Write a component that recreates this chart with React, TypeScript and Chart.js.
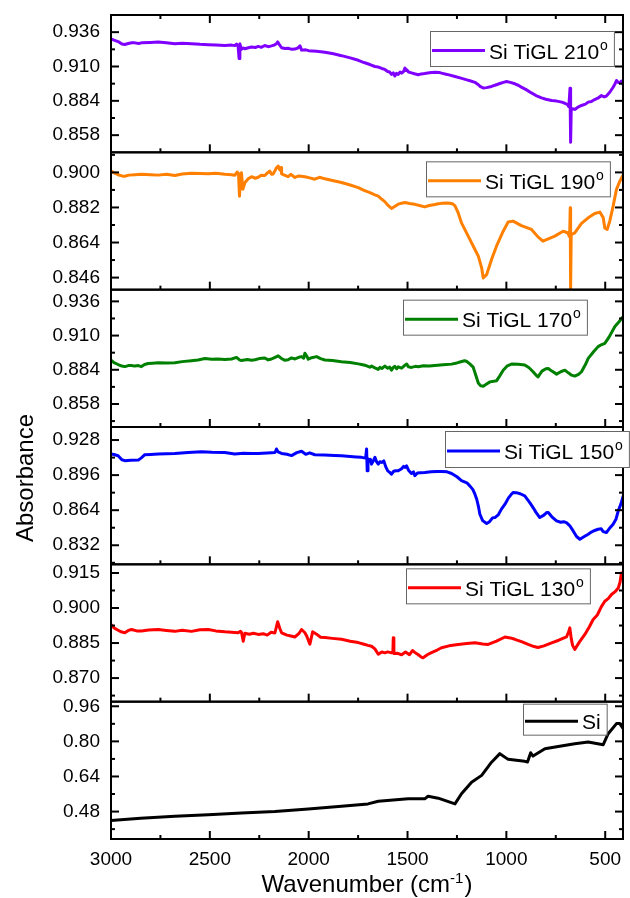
import React, { useEffect, useRef } from 'react';
import { Chart, registerables } from 'chart.js';

Chart.register(...registerables);

const FONT = "'Liberation Sans', Arial, Helvetica, sans-serif";

// ---------- data (wavenumber cm-1, absorbance) ----------
const wn210 = [3000, 2985, 2964, 2945, 2930, 2913, 2895, 2879, 2860, 2846, 2800, 2761, 2720, 2677, 2640, 2593, 2550, 2508, 2470, 2424, 2390, 2374, 2365, 2357, 2352, 2348, 2340, 2330, 2323, 2300, 2289, 2270, 2255, 2240, 2222, 2205, 2188, 2175, 2163, 2157, 2150, 2137, 2120, 2104, 2085, 2070, 2055, 2044, 2036, 2015, 2000, 1960, 1918, 1875, 1834, 1790, 1749, 1720, 1690, 1665, 1648, 1630, 1615, 1600, 1590, 1581, 1572, 1564, 1556, 1547, 1538, 1530, 1520, 1513, 1508, 1504, 1495, 1480, 1465, 1446, 1430, 1413, 1390, 1362, 1340, 1328, 1300, 1260, 1230, 1200, 1180, 1159, 1140, 1133, 1117, 1100, 1075, 1050, 1033, 1015, 999, 980, 957, 940, 924, 900, 873, 850, 822, 800, 771, 755, 738, 720, 704, 690, 684, 678, 675, 672, 665, 654, 640, 620, 600, 586, 570, 553, 535, 519, 505, 494, 477, 460, 450, 443, 435, 426, 418, 410];
const ab210 = [0.931, 0.93, 0.9289, 0.927, 0.9267, 0.9274, 0.928, 0.9279, 0.9274, 0.9279, 0.9282, 0.9285, 0.928, 0.9272, 0.9276, 0.9273, 0.9268, 0.9265, 0.9262, 0.9259, 0.9262, 0.9258, 0.927, 0.9252, 0.916, 0.9272, 0.923, 0.924, 0.9234, 0.9244, 0.9248, 0.9244, 0.9252, 0.9245, 0.9259, 0.925, 0.9256, 0.9262, 0.9272, 0.9286, 0.927, 0.9242, 0.9236, 0.9238, 0.923, 0.9232, 0.924, 0.9256, 0.9224, 0.9226, 0.922, 0.9215, 0.9208, 0.9196, 0.9182, 0.9165, 0.9147, 0.913, 0.9115, 0.91, 0.9096, 0.9085, 0.9078, 0.9062, 0.9058, 0.904, 0.9052, 0.9028, 0.9048, 0.904, 0.9058, 0.905, 0.9062, 0.9088, 0.907, 0.9075, 0.9058, 0.9052, 0.9045, 0.9038, 0.9044, 0.9047, 0.9052, 0.9057, 0.9054, 0.905, 0.904, 0.9024, 0.9012, 0.8999, 0.899, 0.898, 0.896, 0.895, 0.8937, 0.894, 0.8949, 0.8962, 0.8971, 0.898, 0.8986, 0.898, 0.8969, 0.8958, 0.8944, 0.8925, 0.89, 0.888, 0.8862, 0.8852, 0.8842, 0.884, 0.8836, 0.883, 0.8822, 0.881, 0.8795, 0.8936, 0.8527, 0.8768, 0.878, 0.8775, 0.879, 0.8805, 0.8815, 0.883, 0.8835, 0.885, 0.8862, 0.888, 0.887, 0.8876, 0.8905, 0.8943, 0.897, 0.8994, 0.898, 0.8976, 0.899, 0.8962];

const wn190 = [3000, 2985, 2964, 2945, 2930, 2910, 2879, 2846, 2800, 2761, 2720, 2677, 2640, 2593, 2550, 2508, 2470, 2424, 2390, 2374, 2362, 2355, 2350, 2345, 2340, 2333, 2323, 2306, 2289, 2270, 2255, 2240, 2222, 2210, 2197, 2188, 2180, 2170, 2163, 2154, 2146, 2140, 2137, 2120, 2104, 2090, 2070, 2050, 2019, 1995, 1969, 1945, 1918, 1880, 1834, 1790, 1749, 1720, 1690, 1665, 1648, 1630, 1615, 1600, 1581, 1565, 1547, 1530, 1513, 1490, 1463, 1440, 1413, 1390, 1362, 1345, 1328, 1300, 1286, 1270, 1260, 1244, 1227, 1193, 1159, 1142, 1125, 1117, 1100, 1075, 1050, 1016, 991, 966, 924, 873, 840, 815, 788, 755, 713, 690, 680, 677, 675, 672, 654, 620, 586, 553, 527, 510, 502, 490, 477, 460, 443, 426, 410];
const ab190 = [0.9007, 0.8998, 0.8988, 0.8982, 0.898, 0.8986, 0.8988, 0.899, 0.8988, 0.8986, 0.899, 0.8984, 0.8992, 0.8995, 0.8994, 0.8993, 0.8996, 0.899, 0.8988, 0.8985, 0.9002, 0.8995, 0.8878, 0.8973, 0.8998, 0.8913, 0.8947, 0.8967, 0.8978, 0.897, 0.8975, 0.8985, 0.8984, 0.8996, 0.9007, 0.899, 0.8992, 0.901, 0.9024, 0.9033, 0.9012, 0.9025, 0.8992, 0.8985, 0.8978, 0.899, 0.8974, 0.8982, 0.8978, 0.8972, 0.8965, 0.8975, 0.8967, 0.8958, 0.8948, 0.8935, 0.8922, 0.8908, 0.8896, 0.8885, 0.8878, 0.8862, 0.885, 0.8832, 0.8815, 0.8825, 0.8837, 0.8842, 0.8845, 0.884, 0.8836, 0.883, 0.8823, 0.883, 0.8835, 0.8839, 0.8841, 0.8843, 0.8842, 0.8838, 0.8828, 0.8793, 0.8741, 0.8673, 0.8604, 0.857, 0.851, 0.8458, 0.8475, 0.8553, 0.8621, 0.8698, 0.8745, 0.875, 0.8727, 0.8707, 0.8669, 0.8647, 0.8659, 0.8673, 0.8698, 0.869, 0.8669, 0.8818, 0.8398, 0.8681, 0.869, 0.8738, 0.8767, 0.8789, 0.8796, 0.8767, 0.8715, 0.8707, 0.875, 0.8827, 0.8913, 0.8955, 0.8985];

const wn170 = [3000, 2985, 2964, 2945, 2930, 2912, 2896, 2880, 2862, 2846, 2830, 2812, 2790, 2761, 2720, 2677, 2640, 2593, 2560, 2525, 2490, 2460, 2424, 2390, 2365, 2350, 2340, 2310, 2290, 2272, 2250, 2222, 2205, 2188, 2170, 2154, 2140, 2120, 2104, 2087, 2070, 2050, 2036, 2025, 2019, 2010, 2002, 1985, 1960, 1940, 1918, 1880, 1834, 1790, 1749, 1733, 1710, 1690, 1682, 1665, 1648, 1640, 1630, 1615, 1600, 1590, 1581, 1572, 1564, 1555, 1547, 1530, 1515, 1504, 1495, 1480, 1460, 1446, 1420, 1390, 1362, 1320, 1277, 1250, 1230, 1212, 1202, 1185, 1168, 1155, 1142, 1130, 1117, 1100, 1083, 1065, 1050, 1035, 1016, 995, 974, 940, 907, 885, 865, 850, 840, 820, 800, 788, 770, 746, 725, 704, 685, 670, 654, 635, 620, 600, 586, 560, 536, 520, 502, 480, 451, 430, 409];
const ab170 = [0.8914, 0.8895, 0.888, 0.8868, 0.8864, 0.8872, 0.8873, 0.8868, 0.8872, 0.8864, 0.888, 0.8888, 0.889, 0.8893, 0.8892, 0.8894, 0.8902, 0.8909, 0.8915, 0.8925, 0.892, 0.8922, 0.8918, 0.8922, 0.8934, 0.8915, 0.891, 0.8918, 0.8912, 0.8916, 0.8925, 0.893, 0.8915, 0.8922, 0.8935, 0.8946, 0.8928, 0.8912, 0.8916, 0.893, 0.8922, 0.8935, 0.894, 0.8928, 0.8966, 0.8945, 0.892, 0.8932, 0.894, 0.8925, 0.8914, 0.891, 0.8901, 0.8895, 0.8885, 0.888, 0.8872, 0.886, 0.8868, 0.8855, 0.8843, 0.8858, 0.885, 0.8868, 0.8852, 0.886, 0.8837, 0.8858, 0.8866, 0.8848, 0.8862, 0.8852, 0.8872, 0.8883, 0.8862, 0.8858, 0.8866, 0.8863, 0.887, 0.8868, 0.8873, 0.8878, 0.8883, 0.8892, 0.8901, 0.8909, 0.8905, 0.8885, 0.886, 0.88, 0.874, 0.8718, 0.8715, 0.8732, 0.8748, 0.8752, 0.8756, 0.879, 0.8837, 0.887, 0.8883, 0.8882, 0.8876, 0.8855, 0.8825, 0.88, 0.8786, 0.883, 0.8848, 0.885, 0.883, 0.8807, 0.8825, 0.8837, 0.8815, 0.8799, 0.8792, 0.8805, 0.8825, 0.888, 0.8927, 0.8975, 0.9016, 0.903, 0.9041, 0.909, 0.9169, 0.9205, 0.9245];

const wn150 = [3000, 2985, 2964, 2945, 2930, 2900, 2862, 2845, 2829, 2800, 2761, 2720, 2677, 2610, 2542, 2490, 2424, 2374, 2330, 2290, 2255, 2210, 2171, 2166, 2163, 2155, 2137, 2110, 2087, 2060, 2036, 2015, 1995, 1969, 1920, 1870, 1834, 1790, 1760, 1733, 1712, 1707, 1704, 1700, 1695, 1688, 1682, 1673, 1665, 1656, 1648, 1640, 1631, 1620, 1610, 1600, 1590, 1581, 1570, 1560, 1547, 1530, 1520, 1513, 1505, 1495, 1480, 1470, 1463, 1450, 1435, 1413, 1380, 1350, 1328, 1300, 1277, 1250, 1227, 1200, 1185, 1170, 1159, 1150, 1142, 1134, 1120, 1100, 1085, 1070, 1058, 1040, 1025, 1007, 990, 975, 966, 950, 930, 907, 890, 878, 865, 850, 831, 810, 795, 788, 770, 746, 725, 710, 696, 680, 662, 645, 628, 610, 586, 570, 553, 536, 520, 510, 494, 480, 460, 445, 434, 420, 409];
const ab150 = [0.9152, 0.9148, 0.9137, 0.91, 0.9092, 0.9095, 0.9097, 0.912, 0.9146, 0.9148, 0.9152, 0.9155, 0.9158, 0.9166, 0.9174, 0.9168, 0.9166, 0.9152, 0.916, 0.9158, 0.9157, 0.9162, 0.9167, 0.9182, 0.9198, 0.9172, 0.9158, 0.915, 0.9138, 0.9165, 0.9178, 0.915, 0.9163, 0.9146, 0.9143, 0.9139, 0.9136, 0.913, 0.9126, 0.9122, 0.9115, 0.9198, 0.8999, 0.911, 0.9085, 0.9105, 0.906, 0.909, 0.9122, 0.908, 0.906, 0.9082, 0.9076, 0.909, 0.9035, 0.8999, 0.8985, 0.8969, 0.8995, 0.9, 0.9, 0.9018, 0.904, 0.903, 0.9045, 0.9005, 0.8975, 0.899, 0.8955, 0.898, 0.8982, 0.8984, 0.899, 0.8994, 0.8994, 0.899, 0.8975, 0.8945, 0.891, 0.889, 0.8862, 0.883, 0.8786, 0.874, 0.868, 0.8603, 0.8545, 0.8518, 0.8535, 0.857, 0.8573, 0.86, 0.865, 0.8695, 0.875, 0.8785, 0.8801, 0.88, 0.879, 0.8771, 0.873, 0.87, 0.8664, 0.862, 0.8573, 0.8595, 0.862, 0.8619, 0.858, 0.8542, 0.853, 0.8535, 0.8527, 0.85, 0.8451, 0.84, 0.8375, 0.8395, 0.8421, 0.844, 0.8455, 0.8466, 0.847, 0.8445, 0.8436, 0.847, 0.8512, 0.856, 0.8634, 0.87, 0.8771];

const wn130 = [3000, 2985, 2964, 2950, 2930, 2912, 2896, 2870, 2846, 2810, 2761, 2720, 2677, 2640, 2593, 2550, 2508, 2470, 2424, 2390, 2357, 2345, 2340, 2331, 2323, 2300, 2280, 2255, 2230, 2210, 2190, 2171, 2157, 2145, 2137, 2110, 2090, 2070, 2050, 2036, 2020, 2010, 1994, 1980, 1960, 1940, 1918, 1880, 1834, 1790, 1749, 1720, 1700, 1682, 1665, 1648, 1630, 1615, 1600, 1581, 1574, 1572, 1569, 1550, 1530, 1510, 1490, 1475, 1463, 1445, 1430, 1421, 1400, 1379, 1350, 1328, 1290, 1244, 1200, 1159, 1120, 1092, 1050, 1007, 980, 957, 920, 890, 860, 840, 810, 771, 735, 696, 684, 679, 672, 665, 654, 630, 603, 580, 561, 540, 520, 502, 485, 468, 450, 434, 425, 418, 409];
const ab130 = [0.893, 0.8915, 0.8905, 0.8898, 0.8894, 0.8904, 0.8908, 0.8902, 0.8902, 0.8906, 0.8908, 0.8904, 0.89, 0.8905, 0.89, 0.8907, 0.8908, 0.8902, 0.8898, 0.8896, 0.8894, 0.89, 0.8896, 0.8858, 0.8892, 0.8888, 0.8892, 0.8887, 0.889, 0.8884, 0.8896, 0.8893, 0.8941, 0.891, 0.8894, 0.8884, 0.888, 0.8876, 0.889, 0.8908, 0.8895, 0.888, 0.8845, 0.8898, 0.8888, 0.8875, 0.8874, 0.887, 0.8866, 0.8858, 0.8852, 0.8845, 0.884, 0.8836, 0.8825, 0.8802, 0.8812, 0.8808, 0.8812, 0.8808, 0.8812, 0.8873, 0.8805, 0.8806, 0.88, 0.8812, 0.88, 0.8818, 0.881, 0.88, 0.879, 0.8787, 0.88, 0.8809, 0.882, 0.883, 0.8838, 0.8844, 0.8848, 0.8851, 0.8846, 0.8844, 0.8858, 0.8876, 0.8872, 0.8866, 0.8855, 0.8844, 0.8835, 0.8831, 0.8838, 0.8851, 0.8862, 0.8876, 0.89, 0.8915, 0.887, 0.884, 0.8823, 0.8855, 0.8887, 0.892, 0.8951, 0.897, 0.9005, 0.9029, 0.904, 0.9058, 0.907, 0.9086, 0.911, 0.915, 0.9136];

const wnSi = [3000, 2850, 2677, 2508, 2340, 2171, 2002, 1834, 1700, 1648, 1497, 1413, 1396, 1345, 1260, 1227, 1176, 1125, 1075, 1033, 991, 907, 893, 877, 865, 805, 738, 654, 586, 510, 485, 443, 426, 409];
const abSi = [0.439, 0.45, 0.459, 0.465, 0.474, 0.48, 0.492, 0.504, 0.515, 0.527, 0.538, 0.538, 0.55, 0.541, 0.515, 0.561, 0.614, 0.645, 0.705, 0.744, 0.718, 0.709, 0.706, 0.748, 0.733, 0.766, 0.777, 0.789, 0.797, 0.785, 0.835, 0.881, 0.881, 0.858];

// ---------- series / axes ----------
const seriesNames = ['Si TiGL 210', 'Si TiGL 190', 'Si TiGL 170', 'Si TiGL 150', 'Si TiGL 130', 'Si'];
const seriesSup = ['o', 'o', 'o', 'o', 'o', ''];
const seriesX = [wn210, wn190, wn170, wn150, wn130, wnSi];
const seriesY = [ab210, ab190, ab170, ab150, ab130, abSi];
const colors = ['#8000FF', '#FF8000', '#008000', '#0000FF', '#FF0000', '#000000'];

const yMin = [0.845, 0.8398, 0.8405, 0.8146, 0.8599, 0.355];
const yMax = [0.949, 0.9103, 0.9449, 0.9399, 0.9187, 0.981];
const yMajorStep = [0.026, 0.018, 0.026, 0.032, 0.015, 0.16];
const yDecimals = [3, 3, 3, 3, 3, 2];

const xMin = 410;
const xMax = 3000;
const xMajorStep = 500;

const yTitle = 'Absorbance';
const xTitleMain = 'Wavenumber (cm';
const xTitleSup = '-1';
const xTitleEnd = ')';

// legend box style (left x, offset from panel top, height)
const legendLeft = [430, 426, 403, 445, 406, 523];
const legendDy = [16, 9, 10, 4, 4, 2];
const legendH = [35, 35, 35, 36, 35, 31];

const isMajor = (v: number, step: number) => Math.abs(v / step - Math.round(v / step)) < 1e-4;

const framePlugin = {
  id: 'frames',
  afterDraw(chart: any) {
    const ctx: CanvasRenderingContext2D = chart.ctx;
    const ca = chart.chartArea;
    const xs = chart.scales.x;
    const line = (x1: number, y1: number, x2: number, y2: number) => {
      ctx.beginPath();
      ctx.moveTo(x1, y1);
      ctx.lineTo(x2, y2);
      ctx.stroke();
    };
    ctx.save();
    ctx.strokeStyle = '#000';
    for (let i = 0; i < 6; i++) {
      const s = chart.scales['p' + i];
      ctx.lineWidth = 2;
      ctx.strokeRect(ca.left, s.top, ca.right - ca.left, s.bottom - s.top);
      for (const t of s.ticks) {
        const y = s.getPixelForValue(t.value);
        if (y < s.top + 1 || y > s.bottom - 1) continue;
        const len = isMajor(t.value, yMajorStep[i]) ? 8 : 4;
        line(ca.left, y, ca.left + len, y);
        line(ca.right - len, y, ca.right, y);
      }
      for (const t of xs.ticks) {
        const x = xs.getPixelForValue(t.value);
        const len = isMajor(t.value, xMajorStep) ? 8 : 4;
        line(x, s.bottom, x, s.bottom - len);
        if (i === 0) line(x, s.top, x, s.top + len);
      }
    }
    // legends
    for (let i = 0; i < 6; i++) {
      const s = chart.scales['p' + i];
      const L = legendLeft[i];
      const T = s.top + legendDy[i];
      const H = legendH[i];
      ctx.font = `21px ${FONT}`;
      const tw = ctx.measureText(seriesNames[i]).width;
      ctx.font = `14px ${FONT}`;
      const sw = seriesSup[i] ? ctx.measureText(seriesSup[i]).width + 1 : 0;
      const W = 59 + tw + sw + 6;
      ctx.fillStyle = '#fff';
      ctx.fillRect(L, T, W, H);
      ctx.strokeStyle = '#666';
      ctx.lineWidth = 1;
      ctx.strokeRect(L + 0.5, T + 0.5, W, H);
      ctx.strokeStyle = colors[i];
      ctx.lineWidth = 3;
      line(L + 2, T + H / 2 + 2, L + 55, T + H / 2 + 2);
      ctx.fillStyle = '#000';
      ctx.textAlign = 'left';
      ctx.textBaseline = 'alphabetic';
      ctx.font = `21px ${FONT}`;
      const base = T + H / 2 + 10;
      ctx.fillText(seriesNames[i], L + 59, base);
      if (seriesSup[i]) {
        ctx.font = `14px ${FONT}`;
        ctx.fillText(seriesSup[i], L + 59 + tw + 1, base - 9);
      }
    }
    // axis titles
    ctx.fillStyle = '#000';
    ctx.textBaseline = 'alphabetic';
    ctx.save();
    ctx.translate(33, 478);
    ctx.rotate(-Math.PI / 2);
    ctx.textAlign = 'center';
    ctx.font = `24px ${FONT}`;
    ctx.fillText(yTitle, 0, 0);
    ctx.restore();

    ctx.textAlign = 'left';
    ctx.font = `24px ${FONT}`;
    const w1 = ctx.measureText(xTitleMain).width;
    const w3 = ctx.measureText(xTitleEnd).width;
    ctx.font = `15px ${FONT}`;
    const w2 = ctx.measureText(xTitleSup).width;
    const cx = (ca.left + ca.right) / 2;
    const x0 = cx - (w1 + w2 + w3 + 1) / 2;
    const by = 892;
    ctx.font = `24px ${FONT}`;
    ctx.fillText(xTitleMain, x0, by);
    ctx.font = `15px ${FONT}`;
    ctx.fillText(xTitleSup, x0 + w1, by - 9);
    ctx.font = `24px ${FONT}`;
    ctx.fillText(xTitleEnd, x0 + w1 + w2 + 1, by);
    ctx.restore();
  },
};

export default function App() {
  const ref = useRef<HTMLCanvasElement>(null);
  useEffect(() => {
    const tickFont = { family: FONT, size: 19 };
    const scales: any = {
      x: {
        type: 'linear',
        reverse: true,
        min: xMin,
        max: xMax,
        afterFit: (s: any) => {
          s.height = 59;
          s.paddingLeft = 0;
          s.paddingRight = 0;
        },
        grid: { display: false, drawTicks: false },
        border: { display: false },
        ticks: {
          stepSize: xMajorStep / 2,
          autoSkip: false,
          maxRotation: 0,
          includeBounds: false,
          padding: 9,
          color: '#000',
          font: tickFont,
          callback: (v: number) => (isMajor(v, xMajorStep) ? String(v) : ''),
        },
      },
    };
    for (let i = 5; i >= 0; i--) {
      scales['p' + i] = {
        type: 'linear',
        position: 'left',
        stack: 'panels',
        stackWeight: 1,
        min: yMin[i],
        max: yMax[i],
        afterFit: (s: any) => {
          s.width = 111;
          s.paddingTop = 0;
          s.paddingBottom = 0;
        },
        grid: { display: false, drawTicks: false },
        border: { display: false },
        ticks: {
          stepSize: yMajorStep[i] / 2,
          autoSkip: false,
          includeBounds: false,
          padding: 11,
          color: '#000',
          font: tickFont,
          callback: (v: number) => (isMajor(v, yMajorStep[i]) ? v.toFixed(yDecimals[i]) : ''),
        },
      };
    }
    const datasets = seriesNames.map((name, i) => ({
      label: name,
      data: seriesX[i].map((x, j) => ({ x, y: seriesY[i][j] })),
      yAxisID: 'p' + i,
      borderColor: colors[i],
      backgroundColor: colors[i],
      borderWidth: 3,
      borderJoinStyle: 'round',
      pointRadius: 0,
      tension: 0,
      fill: false,
    }));
    const chart = new Chart(ref.current as HTMLCanvasElement, {
      type: 'line',
      data: { datasets },
      options: {
        responsive: false,
        animation: false,
        devicePixelRatio: 1,
        layout: { padding: { left: 0, right: 7, top: 15, bottom: 0 } },
        plugins: { legend: { display: false }, tooltip: { enabled: false } },
        scales,
      },
      plugins: [framePlugin],
    } as any);
    return () => chart.destroy();
  }, []);
  return (
    <div style={{ position: 'absolute', left: 0, top: 0, width: 630, height: 898, background: '#fff' }}>
      <canvas ref={ref} width={630} height={898} style={{ display: 'block', width: 630, height: 898 }} />
    </div>
  );
}
